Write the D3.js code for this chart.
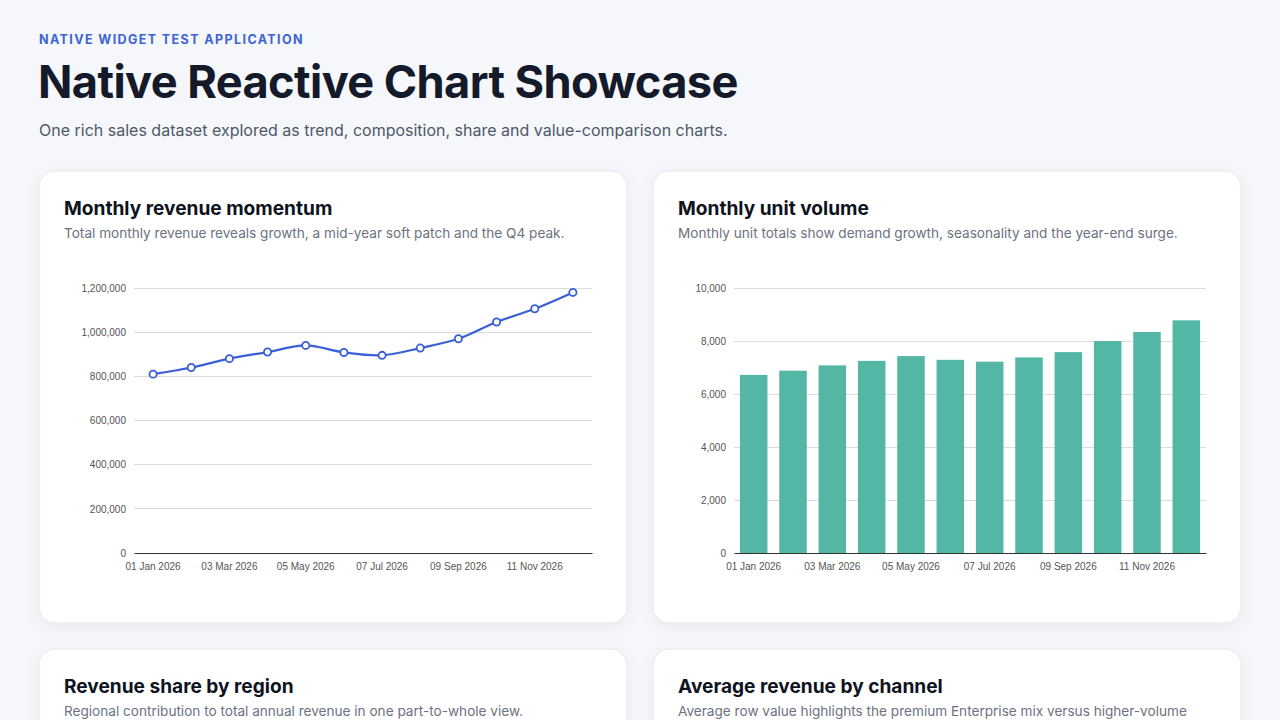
<!DOCTYPE html>
<html>
<head>
<meta charset="utf-8">
<script src="https://cdn.jsdelivr.net/npm/d3@7"></script>
<style>
html,body{margin:0;padding:0;overflow:hidden;background:#f5f7fa;}
svg{display:block;}
</style>
</head>
<body>
<svg id="page" width="1280" height="720"></svg>
<script>
// ---- data ----
const months = ["2026-01","2026-02","2026-03","2026-04","2026-05","2026-06","2026-07","2026-08","2026-09","2026-10","2026-11","2026-12"];
const tickLabels = ["01 Jan 2026","","03 Mar 2026","","05 May 2026","","07 Jul 2026","","09 Sep 2026","","11 Nov 2026",""];
const revenue = [810000, 840000, 880000, 910000, 940000, 908000, 895000, 928000, 970000, 1046000, 1106000, 1180000];
const units = [6720, 6880, 7080, 7250, 7430, 7290, 7220, 7380, 7580, 8000, 8340, 8780];
const revenueTicks = [0, 200000, 400000, 600000, 800000, 1000000, 1200000];
const unitTicks = [0, 2000, 4000, 6000, 8000, 10000];

const svg = d3.select("#page");
const defs = svg.append("defs");
const f = defs.append("filter").attr("id","shadow").attr("x","-10%").attr("y","-10%").attr("width","120%").attr("height","130%");
f.append("feDropShadow").attr("dx",0).attr("dy",4).attr("stdDeviation",8).attr("flood-color","#1f2a44").attr("flood-opacity",0.05);

const UI = "Inter, 'Noto Sans', sans-serif";
const CH = "'Liberation Sans', Arial, sans-serif";

// header
svg.append("text").attr("x",39).attr("y",44).text("NATIVE WIDGET TEST APPLICATION")
  .attr("font-family",UI).attr("font-size",12.5).attr("font-weight",700).attr("letter-spacing","1.4px").attr("fill","#3d63d8");
svg.append("text").attr("x",38).attr("y",98).text("Native Reactive Chart Showcase")
  .attr("font-family",UI).attr("font-size",45.2).attr("font-weight",700).attr("letter-spacing","-0.6px").attr("fill","#141a2a");
svg.append("text").attr("x",39).attr("y",136).text("One rich sales dataset explored as trend, composition, share and value-comparison charts.")
  .attr("font-family",UI).attr("font-size",16).attr("fill","#4f5868");

const cards = [
  {x:39,y:171,title:"Monthly revenue momentum",sub:"Total monthly revenue reveals growth, a mid-year soft patch and the Q4 peak."},
  {x:653,y:171,title:"Monthly unit volume",sub:"Monthly unit totals show demand growth, seasonality and the year-end surge."},
  {x:39,y:649,title:"Revenue share by region",sub:"Regional contribution to total annual revenue in one part-to-whole view."},
  {x:653,y:649,title:"Average revenue by channel",sub:"Average row value highlights the premium Enterprise mix versus higher-volume"}
];
const cg = cards.map(c=>{
  const g = svg.append("g").attr("transform",`translate(${c.x},${c.y})`);
  g.append("rect").attr("width",588).attr("height",452).attr("rx",16)
    .attr("fill","#ffffff").attr("stroke","#e4e7ec").attr("stroke-width",1).attr("filter","url(#shadow)");
  g.append("text").attr("x",25).attr("y",44).text(c.title)
    .attr("font-family",UI).attr("font-size",19.1).attr("font-weight",700).attr("fill","#0f1320");
  g.append("text").attr("x",25).attr("y",67).text(c.sub)
    .attr("font-family",UI).attr("font-size",13.6).attr("fill","#6b7280");
  return g;
});

function styleAxes(g, x, y, ticks){
  const x0 = x.range()[0];
  const ya = g.append("g").attr("transform",`translate(${x0},0)`)
    .call(d3.axisLeft(y).tickValues(ticks).tickFormat(d3.format(",")).tickSize(0).tickPadding(8));
  ya.select(".domain").remove();
  ya.selectAll("text").attr("font-family",CH).attr("font-size",10).attr("fill","#555");
  const xa = g.append("g").attr("transform",`translate(0,${y(0)})`)
    .call(d3.axisBottom(x).tickFormat((d,i)=>tickLabels[i]).tickSize(0).tickPadding(9.5));
  xa.select(".domain").attr("stroke","#333").attr("stroke-width",1.2);
  xa.selectAll("text").attr("font-family",CH).attr("font-size",10).attr("fill","#555");
}
function grid(g, x, y, ticks){
  g.append("g").selectAll("line").data(ticks.filter(t=>t>0)).join("line")
    .attr("x1",x.range()[0]).attr("x2",x.range()[1]).attr("y1",d=>y(d)).attr("y2",d=>y(d))
    .attr("stroke","#dcdcdc").attr("stroke-width",1).attr("shape-rendering","crispEdges");
}

// chart 1: line
{
  const g = cg[0];
  const x = d3.scaleBand().domain(months).range([95,553]);
  const y = d3.scaleLinear().domain([0,1200000]).range([382,117]);
  grid(g, x, y, revenueTicks);
  styleAxes(g, x, y, revenueTicks);
  const line = d3.line().x((d,i)=>x(months[i])+x.bandwidth()/2).y(d=>y(d)).curve(d3.curveCatmullRom.alpha(0.5));
  g.append("path").datum(revenue).attr("d",line).attr("fill","none").attr("stroke","#3a5fd6").attr("stroke-width",2.2);
  g.append("g").selectAll("circle").data(revenue).join("circle")
    .attr("cx",(d,i)=>x(months[i])+x.bandwidth()/2).attr("cy",d=>y(d)).attr("r",3.6)
    .attr("fill","#fff").attr("stroke","#3a5fd6").attr("stroke-width",1.8);
}
// chart 2: bars
{
  const g = cg[1];
  const x = d3.scaleBand().domain(months).range([81,553]).paddingInner(0.3).paddingOuter(0.15);
  const y = d3.scaleLinear().domain([0,10000]).range([382,117]);
  grid(g, x, y, unitTicks);
  g.append("g").selectAll("rect").data(units).join("rect")
    .attr("x",(d,i)=>x(months[i])).attr("width",x.bandwidth())
    .attr("y",d=>y(d)).attr("height",d=>y(0)-y(d)).attr("fill","#54b6a4");
  styleAxes(g, x, y, unitTicks);
}
</script>
</body>
</html>
